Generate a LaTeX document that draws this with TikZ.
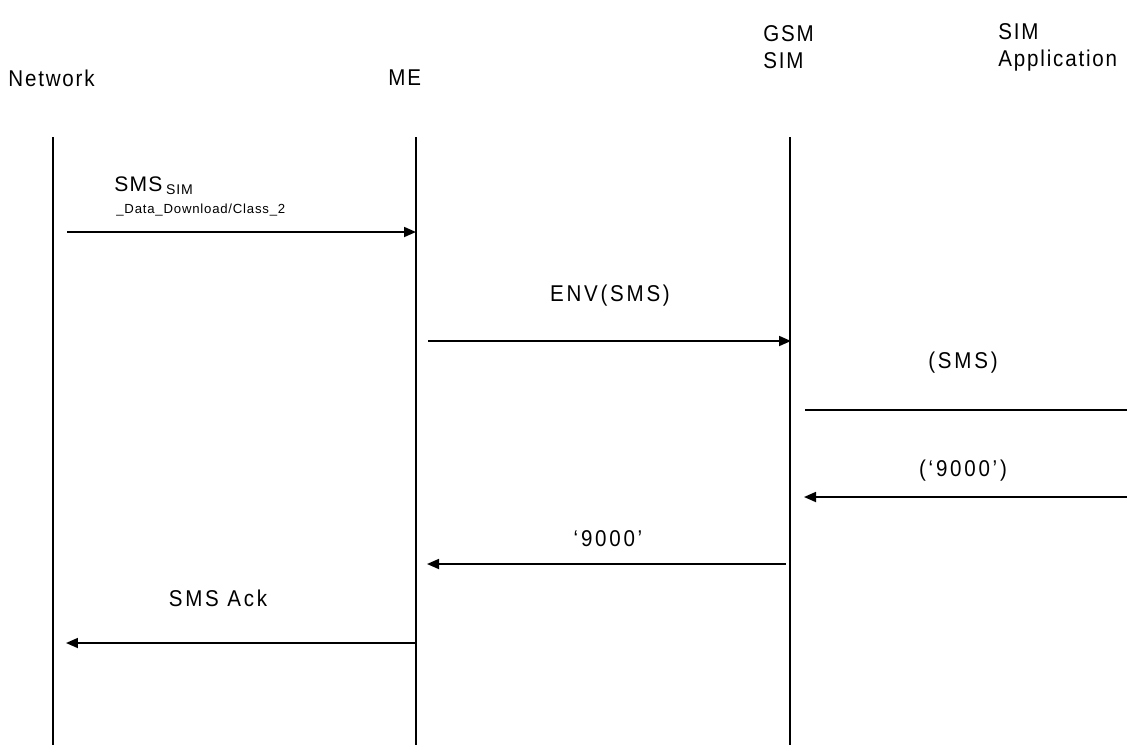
\documentclass[tikz,border=0pt]{standalone}
\usepackage{fontspec}
\setmainfont{Liberation Sans}[LetterSpace=6]
\newfontfamily\headfont{Liberation Sans}[FakeStretch=0.9, LetterSpace=8, Ligatures=TeX]
\newfontfamily\msgfont{Liberation Sans}[FakeStretch=0.9, LetterSpace=12, Ligatures=TeX]
\usepackage{tikz}
\usetikzlibrary{arrows.meta,positioning}
\tikzset{
  lifeline/.style={-, draw=black, line width=1pt},
  msgarrow/.style={-{Triangle[length=2.4mm,width=2mm]}, line width=1pt},
  msgplain/.style={-, line width=1pt},
  msglabel/.style={font=\msgfont\fontsize{13}{15}\selectfont, inner sep=0pt},
  headlabel/.style={font=\headfont\fontsize{13}{15.3}\selectfont, align=left, anchor=west, inner sep=0pt},
  smslabel/.style={font=\fontsize{12}{14}\selectfont, anchor=west, inner sep=0pt},
  smalllabel/.style={font=\fontsize{7.5}{9}\selectfont, anchor=west, inner sep=0pt}
}
\begin{document}
\begin{tikzpicture}[x=0.02cm, y=-0.02cm]
  \useasboundingbox (0,0) rectangle (1127,745);
  % headers
  \node[headlabel] (hnet) at (8,78) {Network};
  \node[headlabel] (hme) at (388,78) {ME};
  \node[headlabel] (hsim) at (763,47) {GSM\\SIM};
  \node[headlabel] (happ) at (998,47) {SIM\\Application};

  % lifelines
  \coordinate (nettop) at (53,137);
  \coordinate (netbot) at (53,745);
  \coordinate (metop) at (416,137);
  \coordinate (mebot) at (416,745);
  \coordinate (simtop) at (790,137);
  \coordinate (simbot) at (790,745);
  \draw[lifeline] (nettop) -- (netbot);
  \draw[lifeline] (metop) -- (mebot);
  \draw[lifeline] (simtop) -- (simbot);

  % message ends
  \coordinate (m1a) at (67,232);
  \coordinate (m1b) at (416,232);
  \coordinate (m2a) at (428,341);
  \coordinate (m2b) at (791,341);
  \coordinate (m3a) at (805,410);
  \coordinate (m3b) at (1127,410);
  \coordinate (m4a) at (1127,497);
  \coordinate (m4b) at (804,497);
  \coordinate (m5a) at (786,564);
  \coordinate (m5b) at (427,564);
  \coordinate (m6a) at (415,643);
  \coordinate (m6b) at (66,643);

  % labels
  \node[smslabel] (lsms) at (114,186) {SMS\,\textsubscript{SIM}};
  \node[smalllabel] (ldata) at (116,210) {\_Data\_Download/Class\_2};
  \node[msglabel] (lenv) at (610,296) {ENV(SMS)};
  \node[msglabel] (lsms2) at (963,363) {(SMS)};
  \node[msglabel] (lok1) at (963,471) {(‘9000’)};
  \node[msglabel] (lok2) at (608,539) {‘9000’};
  \node[msglabel] (lack) at (218,598) {SMS Ack};

  \draw[msgarrow] (m1a) -- (m1b);
  \draw[msgarrow] (m2a) -- (m2b);
  \draw[msgplain] (m3a) -- (m3b);
  \draw[msgarrow] (m4a) -- (m4b);
  \draw[msgarrow] (m5a) -- (m5b);
  \draw[msgarrow] (m6a) -- (m6b);
\end{tikzpicture}
\end{document}
